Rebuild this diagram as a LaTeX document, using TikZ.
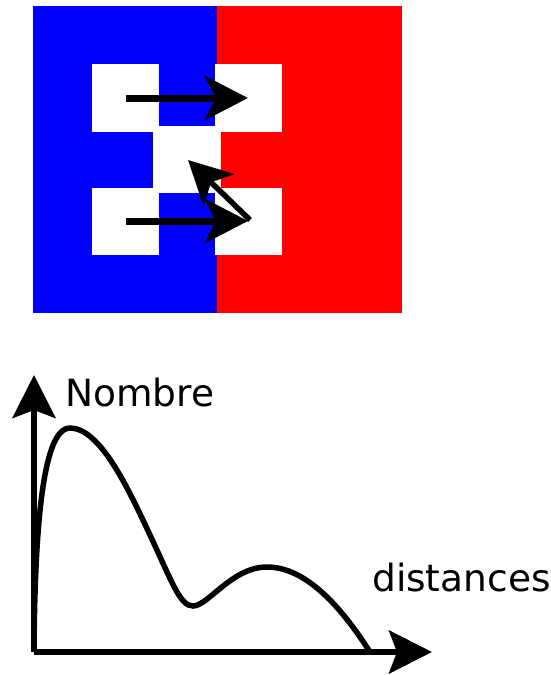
\documentclass[tikz,border=0pt]{standalone}
\usepackage{fontspec}
\setmainfont{DejaVu Sans}
\usetikzlibrary{arrows.meta}

\begin{document}
\begin{tikzpicture}[x=1pt, y=-1pt,
        fleche/.style={line width=7pt, -{Stealth[length=43pt, width=44pt, inset=11pt]}},
        axe/.style={line width=6pt, -{Stealth[length=43pt, width=43pt, inset=8pt]}},
        blanc/.style={fill=white},
        etiquette/.style={anchor=base west, inner sep=0pt, font=\fontsize{37.5}{44}\selectfont}]
        \useasboundingbox (0,0) rectangle (550,675);

        % les deux domaines
        \fill[blue] (33,6) rectangle (217,313);
        \fill[red] (217,6) rectangle (402,313);
        \fill[blanc] (92,64) rectangle (159,132);
        \fill[blanc] (215,64) rectangle (282,132);
        \fill[blanc] (153,126) rectangle (221,193);
        \fill[blanc] (92,188) rectangle (159,255);
        \fill[blanc] (215,188) rectangle (282,255);

        % deplacements
        \coordinate (h1) at (126,98);
        \coordinate (h2) at (248,98);
        \coordinate (b1) at (126,221);
        \coordinate (b2) at (248,221);
        \coordinate (r1) at (250,220);
        \coordinate (r2) at (188,160);
        \draw[fleche] (h1) -- (h2);
        \draw[fleche] (b1) -- (b2);
        \draw[fleche, line width=5.5pt] (r1) -- (r2);

        % histogramme
        \coordinate (O) at (34,652);
        \coordinate (ymax) at (34,375);
        \coordinate (xmax) at (432,652);
        \draw[axe] (O) -- (ymax);
        \draw[axe] (O) -- (xmax);
        \node[etiquette] (nombre) at (65,406) {Nombre};
        \node[etiquette] (dist) at (372,591) {distances};

        \draw[line width=5.5pt] (O) .. controls (35,480) and (50,428) .. (70,428)
            .. controls (100,428) and (128,488) .. (150,535)
            .. controls (172,582) and (180,606) .. (193,606)
            .. controls (208,606) and (232,567) .. (267,567)
            .. controls (305,567) and (340,605) .. (370,652);
\end{tikzpicture}
\end{document}
